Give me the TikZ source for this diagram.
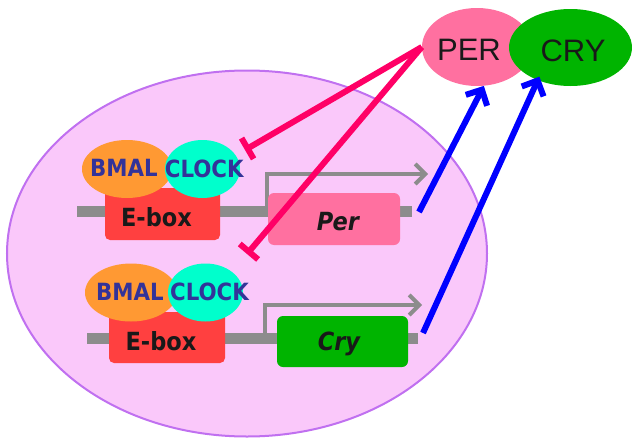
\documentclass[tikz,border=0pt]{standalone}
\usepackage{fontspec}
\setmainfont{Liberation Sans}
\newfontfamily\labelfont{DejaVu Sans Condensed}
\usetikzlibrary{shapes.geometric,arrows.meta}

\definecolor{cellfill}{RGB}{250,200,250}
\definecolor{celledge}{RGB}{192,112,240}
\definecolor{dnagray}{RGB}{140,140,140}
\definecolor{eboxred}{RGB}{255,64,64}
\definecolor{perpink}{RGB}{255,112,160}
\definecolor{crygreen}{RGB}{0,180,0}
\definecolor{bmalorange}{RGB}{255,153,51}
\definecolor{clockcyan}{RGB}{0,255,204}
\definecolor{protblue}{RGB}{51,51,153}
\definecolor{inhibit}{RGB}{255,0,102}
\definecolor{inkdark}{RGB}{25,25,25}

\tikzset{
  cellbody/.style={ellipse, draw=celledge, line width=2pt, fill=cellfill,
    minimum width=480pt, minimum height=366pt, inner sep=0pt},
  dnabar/.style={rectangle, fill=dnagray, minimum height=11pt, inner sep=0pt},
  genebox/.style={rectangle, rounded corners=6pt, inner sep=0pt, minimum height=52pt},
  blob/.style={ellipse, inner sep=0pt, minimum height=58pt},
  protlabel/.style={anchor=base, inner sep=0pt, text=protblue, font=\labelfont\bfseries\fontsize{23.7}{24}\selectfont},
  genelabel/.style={anchor=base, inner sep=0pt, text=inkdark, font=\labelfont\bfseries\itshape\fontsize{25}{25}\selectfont},
  eboxlabel/.style={anchor=base, inner sep=0pt, text=inkdark, font=\labelfont\bfseries\fontsize{25}{25}\selectfont},
  bigprot/.style={ellipse, inner sep=0pt},
  biglabel/.style={anchor=base, inner sep=0pt, text=inkdark, font=\fontsize{31}{31}\selectfont},
  tss/.style={draw=dnagray, line width=4pt, -{Straight Barb[length=10pt,width=20pt]}},
  repress/.style={draw=inhibit, line width=6pt, -{Bar[width=24pt]}},
  produce/.style={draw=blue, line width=6pt, -{Straight Barb[length=12pt,width=24pt]}}
}

\begin{document}
\begin{tikzpicture}[x=1pt,y=-1pt]
\useasboundingbox (0,0) rectangle (632,439);

% nucleus
\node[cellbody] (cell) at (247,253.5) {};

% DNA strands
\node[dnabar, minimum width=335pt] (dna1) at (244.5,211.5) {};
\node[dnabar, minimum width=331pt] (dna2) at (252.5,338.5) {};

% transcription start arrows
\coordinate (tss1) at (267,211);
\coordinate (tssend1) at (428,174);
\draw[tss] (tss1) |- (tssend1);
\coordinate (tss2) at (265,338);
\coordinate (tssend2) at (422,305);
\draw[tss] (tss2) |- (tssend2);

% genes and promoters
\node[genebox, fill=perpink, minimum width=132pt] (pergene) at (334,219) {};
\node[genebox, fill=crygreen, minimum width=131pt, minimum height=51pt] (crygene) at (342.5,341.5) {};
\node[genebox, fill=eboxred, rounded corners=5pt, minimum width=115pt] (ebox1) at (162.5,214) {};
\node[genebox, fill=eboxred, rounded corners=5pt, minimum width=116pt, minimum height=51pt] (ebox2) at (167,337.5) {};

% BMAL/CLOCK complexes
\node[blob, fill=bmalorange, minimum width=90pt] (bmal1) at (127,169) {};
\node[blob, fill=clockcyan, minimum width=75pt] (clock1) at (202.5,169) {};
\node[blob, fill=bmalorange, minimum width=92pt] (bmal2) at (131,292.5) {};
\node[blob, fill=clockcyan, minimum width=75pt] (clock2) at (205.5,292.5) {};

% labels
\node[protlabel] (bmal1t) at (124,176.7) {BMAL};
\node[protlabel] (clock1t) at (204.3,177) {CLOCK};
\node[protlabel] (bmal2t) at (130,300) {BMAL};
\node[protlabel] (clock2t) at (209.5,300) {CLOCK};
\node[eboxlabel] (ebox1t) at (156.5,226.7) {E-box};
\node[eboxlabel] (ebox2t) at (161,350) {E-box};
\node[genelabel] (pert) at (338,230) {Per};
\node[genelabel] (cryt) at (339,350) {Cry};

% PER and CRY proteins
\node[bigprot, fill=perpink, minimum width=110pt, minimum height=78pt] (per) at (477,47) {};
\node[bigprot, fill=crygreen, minimum width=123pt, minimum height=77pt] (cry) at (570.5,47.5) {};
\node[biglabel] (pertxt) at (469,60) {PER};
\node[biglabel] (crytxt) at (573,61.5) {CRY};

% repression of the E-box complexes
\coordinate (inh1) at (245,150);
\coordinate (inh2) at (247,254);
\draw[repress] (per.west) -- (inh1);
\draw[repress] (per.west) -- (inh2);

% translation into proteins
\coordinate (perout) at (419,212);
\coordinate (cryout) at (423,333);
\draw[produce] (perout) -- (per.-80);
\draw[produce, shorten >=-4pt] (cryout) -- (cry.-135);
\end{tikzpicture}
\end{document}
